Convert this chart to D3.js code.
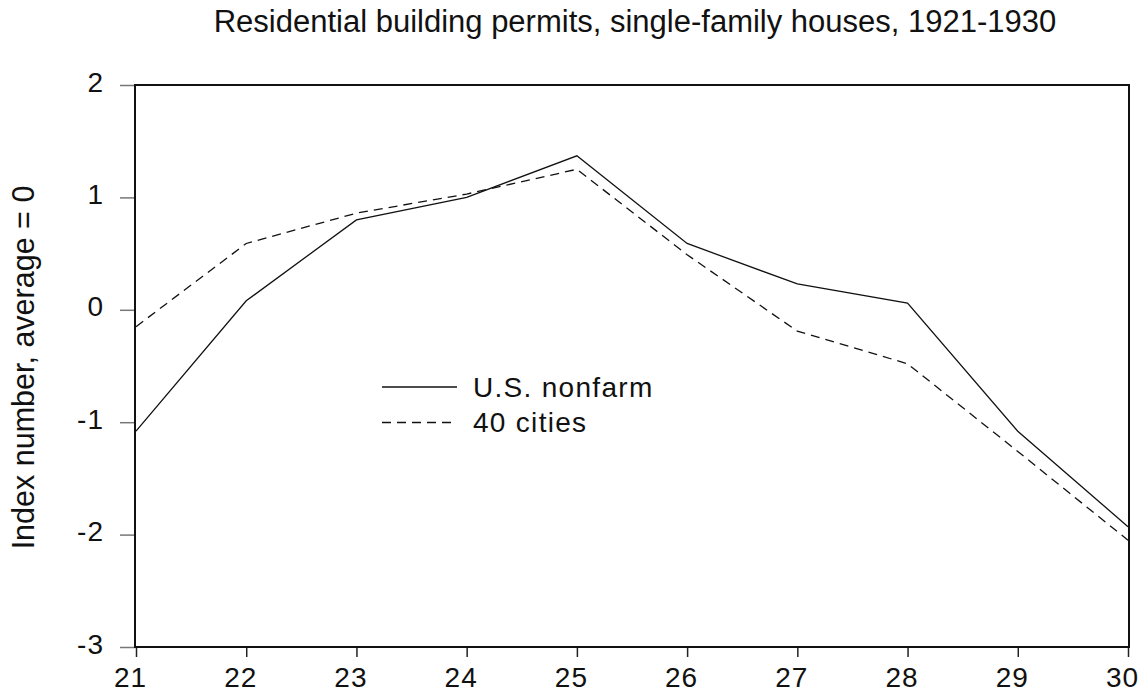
<!DOCTYPE html>
<html>
<head>
<meta charset="utf-8">
<script src="https://cdn.jsdelivr.net/npm/d3@7"></script>
<style>
  body { margin: 0; background: #fff; }
  svg text { font-family: "Liberation Sans", Arial, Helvetica, sans-serif; fill: #111; }
</style>
</head>
<body>
<svg id="chart" width="1146" height="698"></svg>
<script>
// years (1921-1930, shown as two digits)
var years = [21, 22, 23, 24, 25, 26, 27, 28, 29, 30];
// index numbers
var nonfarm = [-1.08, 0.08, 0.80, 1.00, 1.37, 0.59, 0.23, 0.06, -1.08, -1.93];
var cities = [-0.15, 0.59, 0.86, 1.03, 1.25, 0.49, -0.19, -0.48, -1.26, -2.05];
var yTicks = [-3, -2, -1, 0, 1, 2];
var seriesNames = ["U.S. nonfarm", "40 cities"];

var svg = d3.select("#chart"),
    margin = {top: 85, right: 17, bottom: 51, left: 135},
    width = 1146 - margin.left - margin.right,
    height = 698 - margin.top - margin.bottom;

var g = svg.append("g").attr("transform", "translate(" + margin.left + "," + margin.top + ")");

var x = d3.scaleLinear().domain([21, 30]).range([1, width - 1]);
var y = d3.scaleLinear().domain([-3, 2]).range([height, 0]);

// plain hyphen for negatives, like the original
var fmt = function (d) { return String(d); };

// y axis ticks (grey, outside the box)
var yAxis = g.append("g")
    .call(d3.axisLeft(y).tickValues(yTicks).tickSize(15).tickPadding(16).tickFormat(fmt));
yAxis.select(".domain").remove();
yAxis.selectAll(".tick line").attr("stroke", "#777").attr("stroke-width", 1.5);
yAxis.selectAll(".tick text")
    .attr("dy", "0.22em")
    .style("font-size", "28px")
    .style("letter-spacing", "1px")
    .attr("fill", "#111");

// x axis ticks (labels sit a little left of the tick in the original)
var xAxis = g.append("g")
    .attr("transform", "translate(0," + height + ")")
    .call(d3.axisBottom(x).tickValues(years).tickSize(10).tickPadding(10).tickFormat(fmt));
xAxis.select(".domain").remove();
xAxis.selectAll(".tick line").attr("stroke", "#222").attr("stroke-width", 1.5);
xAxis.selectAll(".tick text")
    .attr("dx", -6)
    .style("font-size", "28px")
    .style("letter-spacing", "1px")
    .attr("fill", "#111");

// frame
g.append("rect")
    .attr("x", 0).attr("y", 0)
    .attr("width", width).attr("height", height)
    .attr("fill", "none")
    .attr("stroke", "#111")
    .attr("stroke-width", 2);

var line = d3.line()
    .x(function (d, i) { return x(years[i]); })
    .y(function (d) { return y(d); });

g.append("path")
    .datum(nonfarm)
    .attr("fill", "none")
    .attr("stroke", "#111")
    .attr("stroke-width", 1.3)
    .attr("d", line);

g.append("path")
    .datum(cities)
    .attr("fill", "none")
    .attr("stroke", "#111")
    .attr("stroke-width", 1.3)
    .attr("stroke-dasharray", "9,6")
    .attr("d", line);

// legend
var legend = svg.append("g").attr("transform", "translate(382,387)");
seriesNames.forEach(function (name, i) {
    var row = legend.append("g").attr("transform", "translate(0," + (i * 35.5) + ")");
    row.append("line")
        .attr("x1", 0).attr("x2", 75)
        .attr("y1", 0).attr("y2", 0)
        .attr("stroke", "#111")
        .attr("stroke-width", 1.3)
        .attr("stroke-dasharray", i == 1 ? "9,6" : null);
    row.append("text")
        .attr("x", 91)
        .attr("y", 9.5)
        .style("font-size", "28px")
        .style("letter-spacing", "1.3px")
        .text(name);
});

// title
svg.append("text")
    .attr("x", 635)
    .attr("y", 32)
    .attr("text-anchor", "middle")
    .style("font-size", "31px")
    .text("Residential building permits, single-family houses, 1921-1930");

// y label
svg.append("text")
    .attr("transform", "translate(34,367.5) rotate(-90)")
    .attr("text-anchor", "middle")
    .style("font-size", "30.5px")
    .text("Index number, average = 0");
</script>
</body>
</html>
